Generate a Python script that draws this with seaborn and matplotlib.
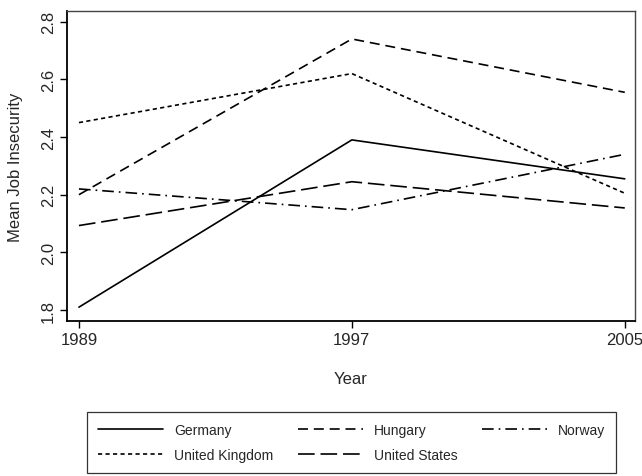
import matplotlib
matplotlib.use("Agg")
import matplotlib.pyplot as plt
import pandas as pd
import seaborn as sns

# values
years = [1989, 1997, 2005]
countries = ["Germany", "Hungary", "Norway", "United Kingdom", "United States"]
germany = [1.81, 2.39, 2.255]
hungary = [2.20, 2.74, 2.555]
norway = [2.22, 2.148, 2.34]
united_kingdom = [2.45, 2.62, 2.205]
united_states = [2.093, 2.245, 2.154]

series = [germany, hungary, norway, united_kingdom, united_states]
df = pd.DataFrame(
    [(c, y, v) for c, vals in zip(countries, series) for y, v in zip(years, vals)],
    columns=["country", "year", "value"],
)

sns.set_theme(style="white")
plt.rcParams["font.family"] = ["Liberation Sans", "DejaVu Sans"]

dashes = {
    "Germany": "",
    "Hungary": (6, 3.5),
    "Norway": (7, 3, 1, 3),
    "United Kingdom": (2.5, 2),
    "United States": (10, 3.5),
}

fig = plt.figure(figsize=(6.42, 4.77), dpi=100)
ax = fig.add_axes([67 / 642, 1 - 322 / 477, (635 - 67) / 642, (322 - 12) / 477])

sns.lineplot(
    data=df, x="year", y="value", hue="country", style="country",
    hue_order=countries, style_order=countries,
    palette=["black"] * 5, dashes=dashes, linewidth=1.2,
    ax=ax, legend=True,
)

ax.set_xlim(1988.65, 2005.3)
ax.set_ylim(1.762, 2.837)
ax.set_xticks(years)
ax.set_yticks([1.8, 2.0, 2.2, 2.4, 2.6, 2.8])
ax.set_yticklabels(["1.8", "2.0", "2.2", "2.4", "2.6", "2.8"], rotation=90, va="center")
ax.tick_params(axis="both", which="both", length=5, width=1, color="black",
               labelsize=12, direction="out", bottom=True, left=True, pad=3)
ax.set_xlabel("Year", fontsize=12, labelpad=17)
ax.set_ylabel("Mean Job Insecurity", fontsize=12, labelpad=13)

for side, sp in ax.spines.items():
    sp.set_visible(True)
    sp.set_color("black" if side in ("left", "bottom") else "#444444")
    sp.set_linewidth(1.3 if side in ("left", "bottom") else 1.0)

handles, labels = ax.get_legend_handles_labels()
ax.get_legend().remove()
lookup = dict(zip(labels, handles))
order = ["Germany", "United Kingdom", "Hungary", "United States", "Norway"]
leg = fig.legend(
    [lookup[k] for k in order], order,
    ncol=3, loc="upper left",
    bbox_to_anchor=(87 / 642, 1 - 413 / 477),
    fontsize=10, frameon=True, fancybox=False,
    edgecolor="black", handlelength=4.7, handletextpad=0.75,
    columnspacing=1.8, borderpad=0.8, labelspacing=0.75,
    borderaxespad=0,
)
leg.get_frame().set_linewidth(0.9)

fig.savefig("out.png", dpi=100)
